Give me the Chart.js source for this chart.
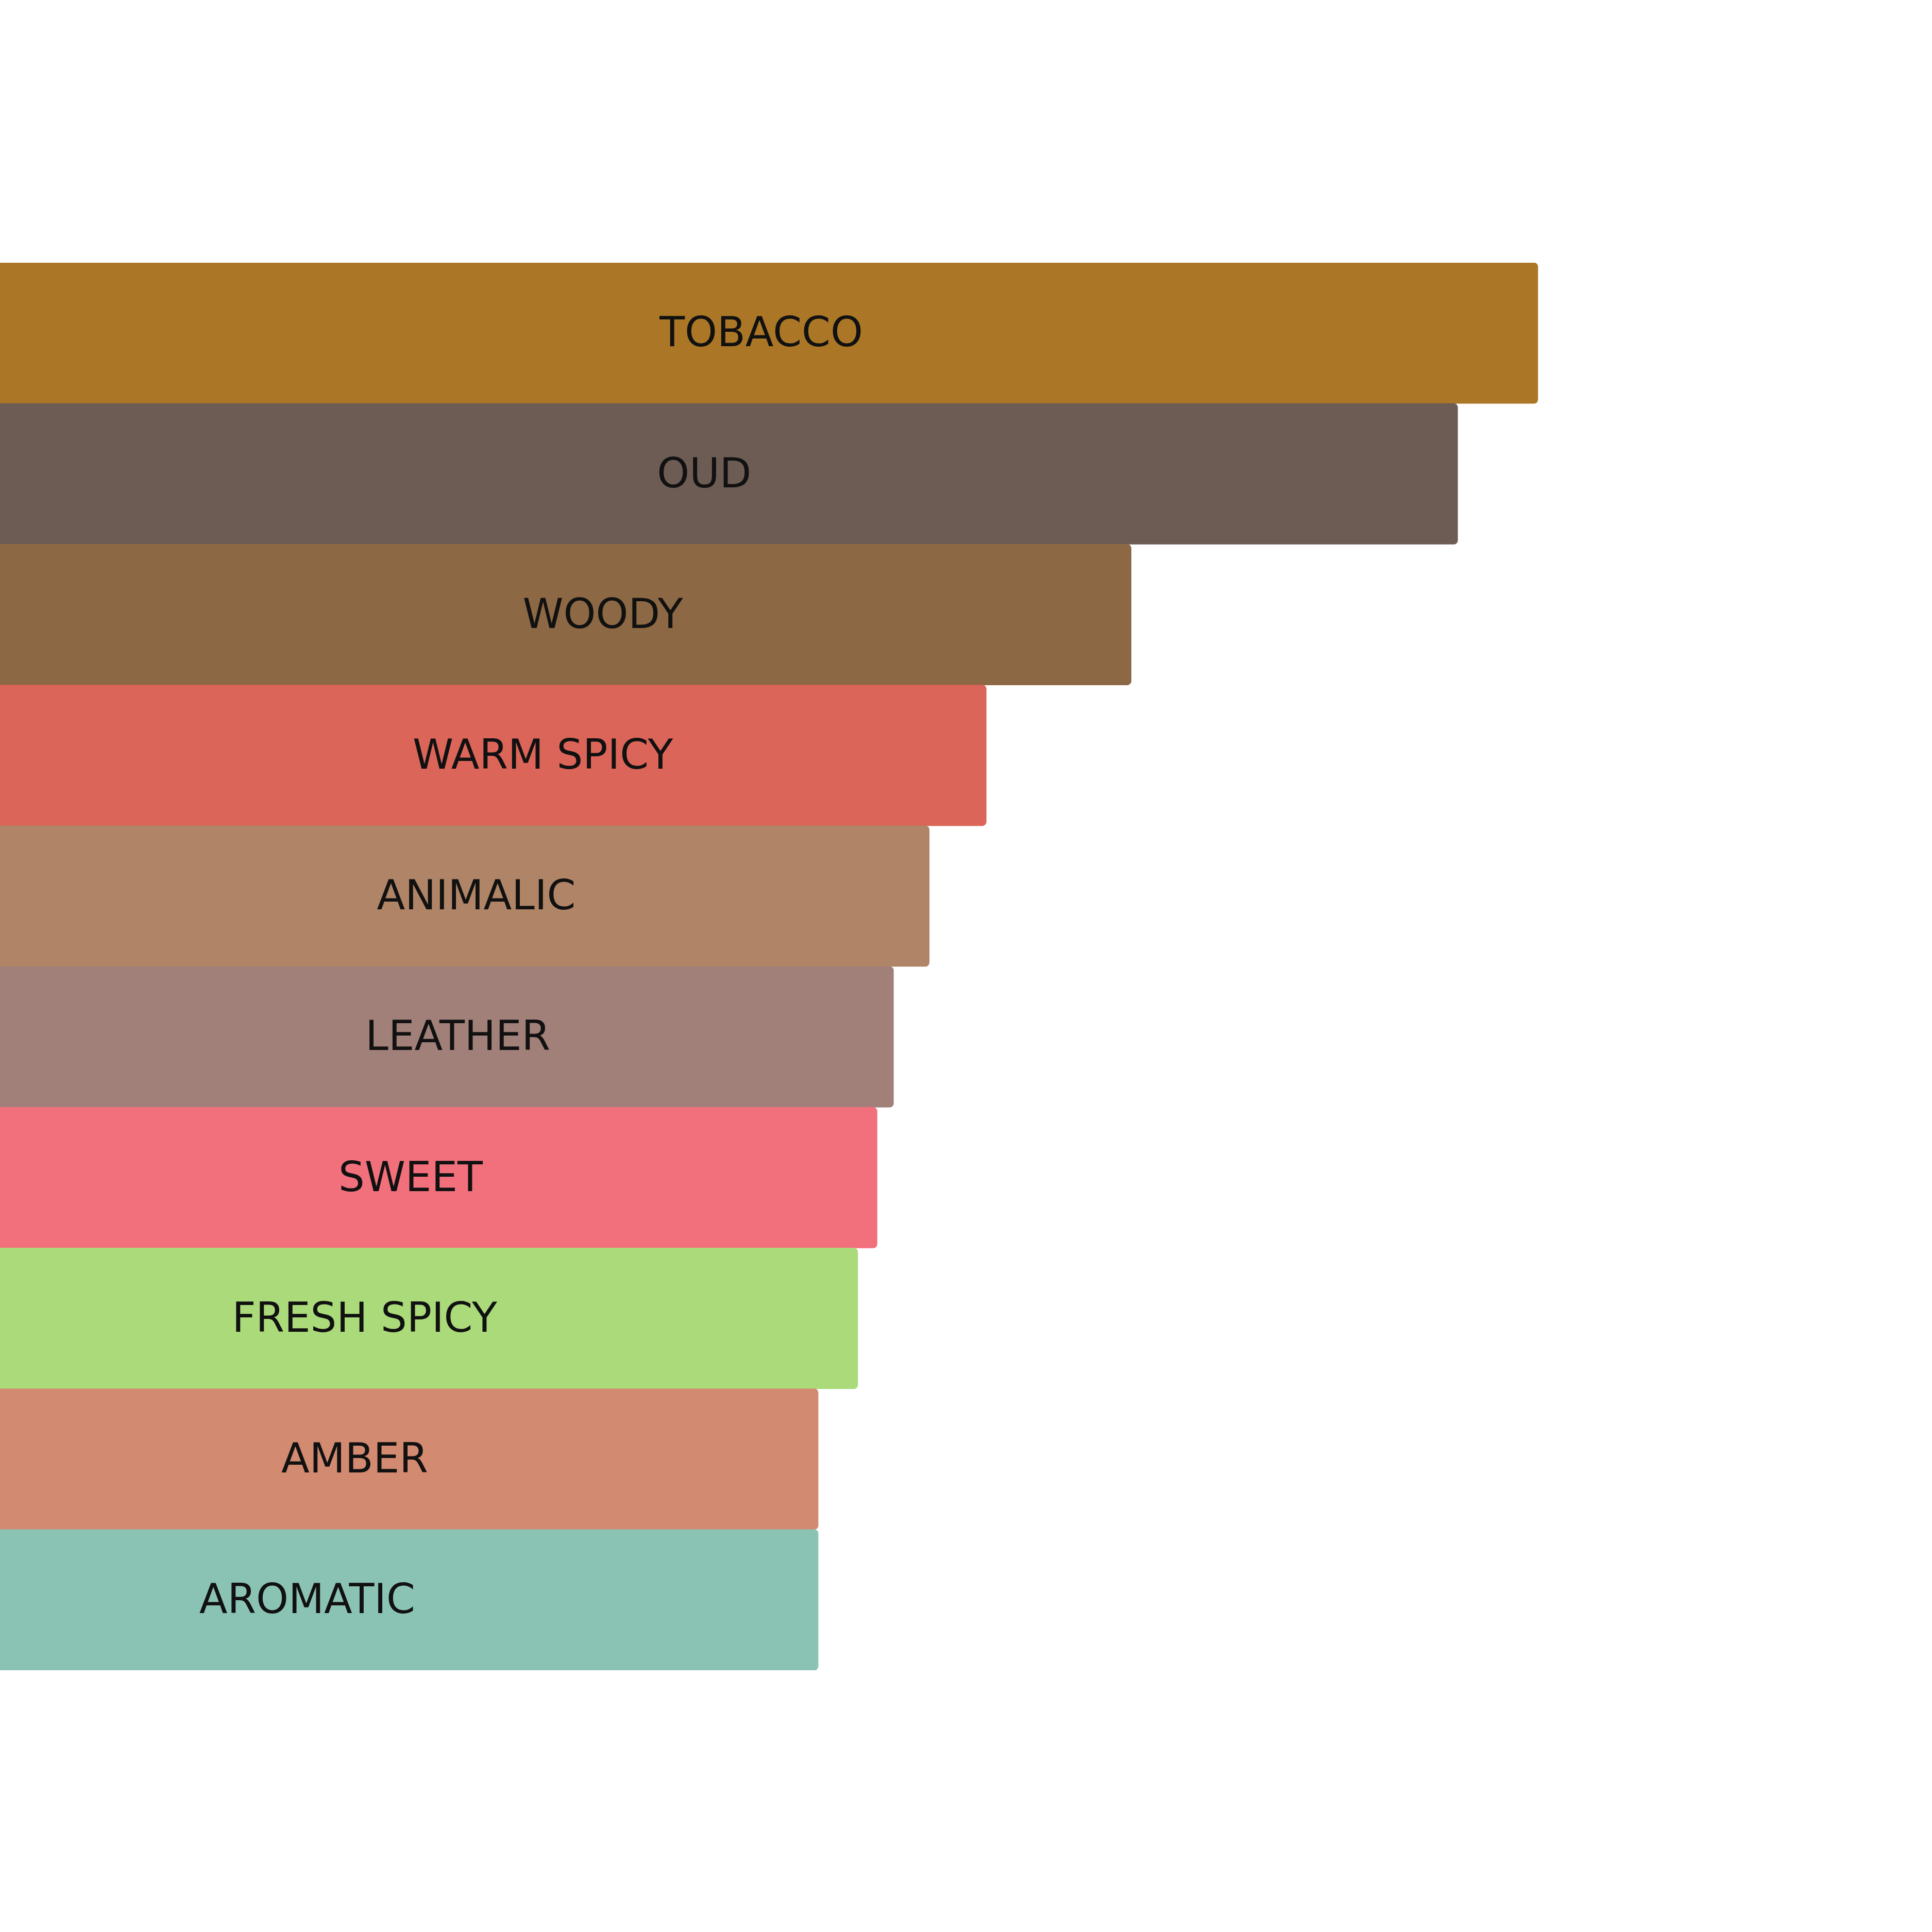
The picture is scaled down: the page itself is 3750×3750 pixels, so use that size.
<!DOCTYPE html>
<html>
<head>
<meta charset="utf-8">
<script src="https://cdn.jsdelivr.net/npm/chart.js@4/dist/chart.umd.min.js"></script>
<style>
  html, body { margin: 0; padding: 0; background: #fff; }
  canvas { display: block; }
</style>
</head>
<body>
<canvas id="accordChart" width="3750" height="3750"></canvas>
<script>
// main accords, strongest first
const accords = ['TOBACCO', 'OUD', 'WOODY', 'WARM SPICY', 'ANIMALIC', 'LEATHER', 'SWEET', 'FRESH SPICY', 'AMBER', 'AROMATIC'];
const strength = [79.6, 75.45, 58.55, 51.05, 48.1, 46.25, 45.4, 44.4, 42.35, 42.35];
const labelAt = [39.4, 36.45, 31.2, 28.1, 24.65, 23.7, 21.25, 18.87, 18.36, 15.9];
const accordColors = ['#ab7726', '#6d5c54', '#8d6844', '#db6558', '#b08466', '#a08079', '#f2707c', '#abda7a', '#d28a71', '#8ac3b4'];

const accordLabels = {
    id: 'accordLabels',
    afterDatasetsDraw(chart) {
        const ctx = chart.ctx;
        const xs = chart.scales.x;
        const meta = chart.getDatasetMeta(0);
        ctx.save();
        ctx.font = '80px "DejaVu Sans", Verdana, sans-serif';
        ctx.fillStyle = '#111111';
        ctx.textAlign = 'center';
        ctx.textBaseline = 'middle';
        meta.data.forEach((bar, i) => {
            ctx.fillText(accords[i], xs.getPixelForValue(labelAt[i]), bar.y + 5);
        });
        ctx.restore();
    }
};

const ctx = document.getElementById('accordChart').getContext('2d');

new Chart(ctx, {
    type: 'bar',
    data: {
        labels: accords,
        datasets: [{
            data: strength,
            backgroundColor: accordColors,
            borderWidth: 0,
            borderRadius: 8,
            barPercentage: 1,
            categoryPercentage: 1
        }]
    },
    options: {
        indexAxis: 'y',
        responsive: false,
        animation: false,
        devicePixelRatio: 1,
        layout: { padding: { top: 510, bottom: 508, left: 0, right: 0 } },
        plugins: { legend: { display: false }, tooltip: { enabled: false } },
        scales: {
            x: { display: false, min: 0, max: 100 },
            y: { display: false }
        }
    },
    plugins: [accordLabels]
});
</script>
</body>
</html>
